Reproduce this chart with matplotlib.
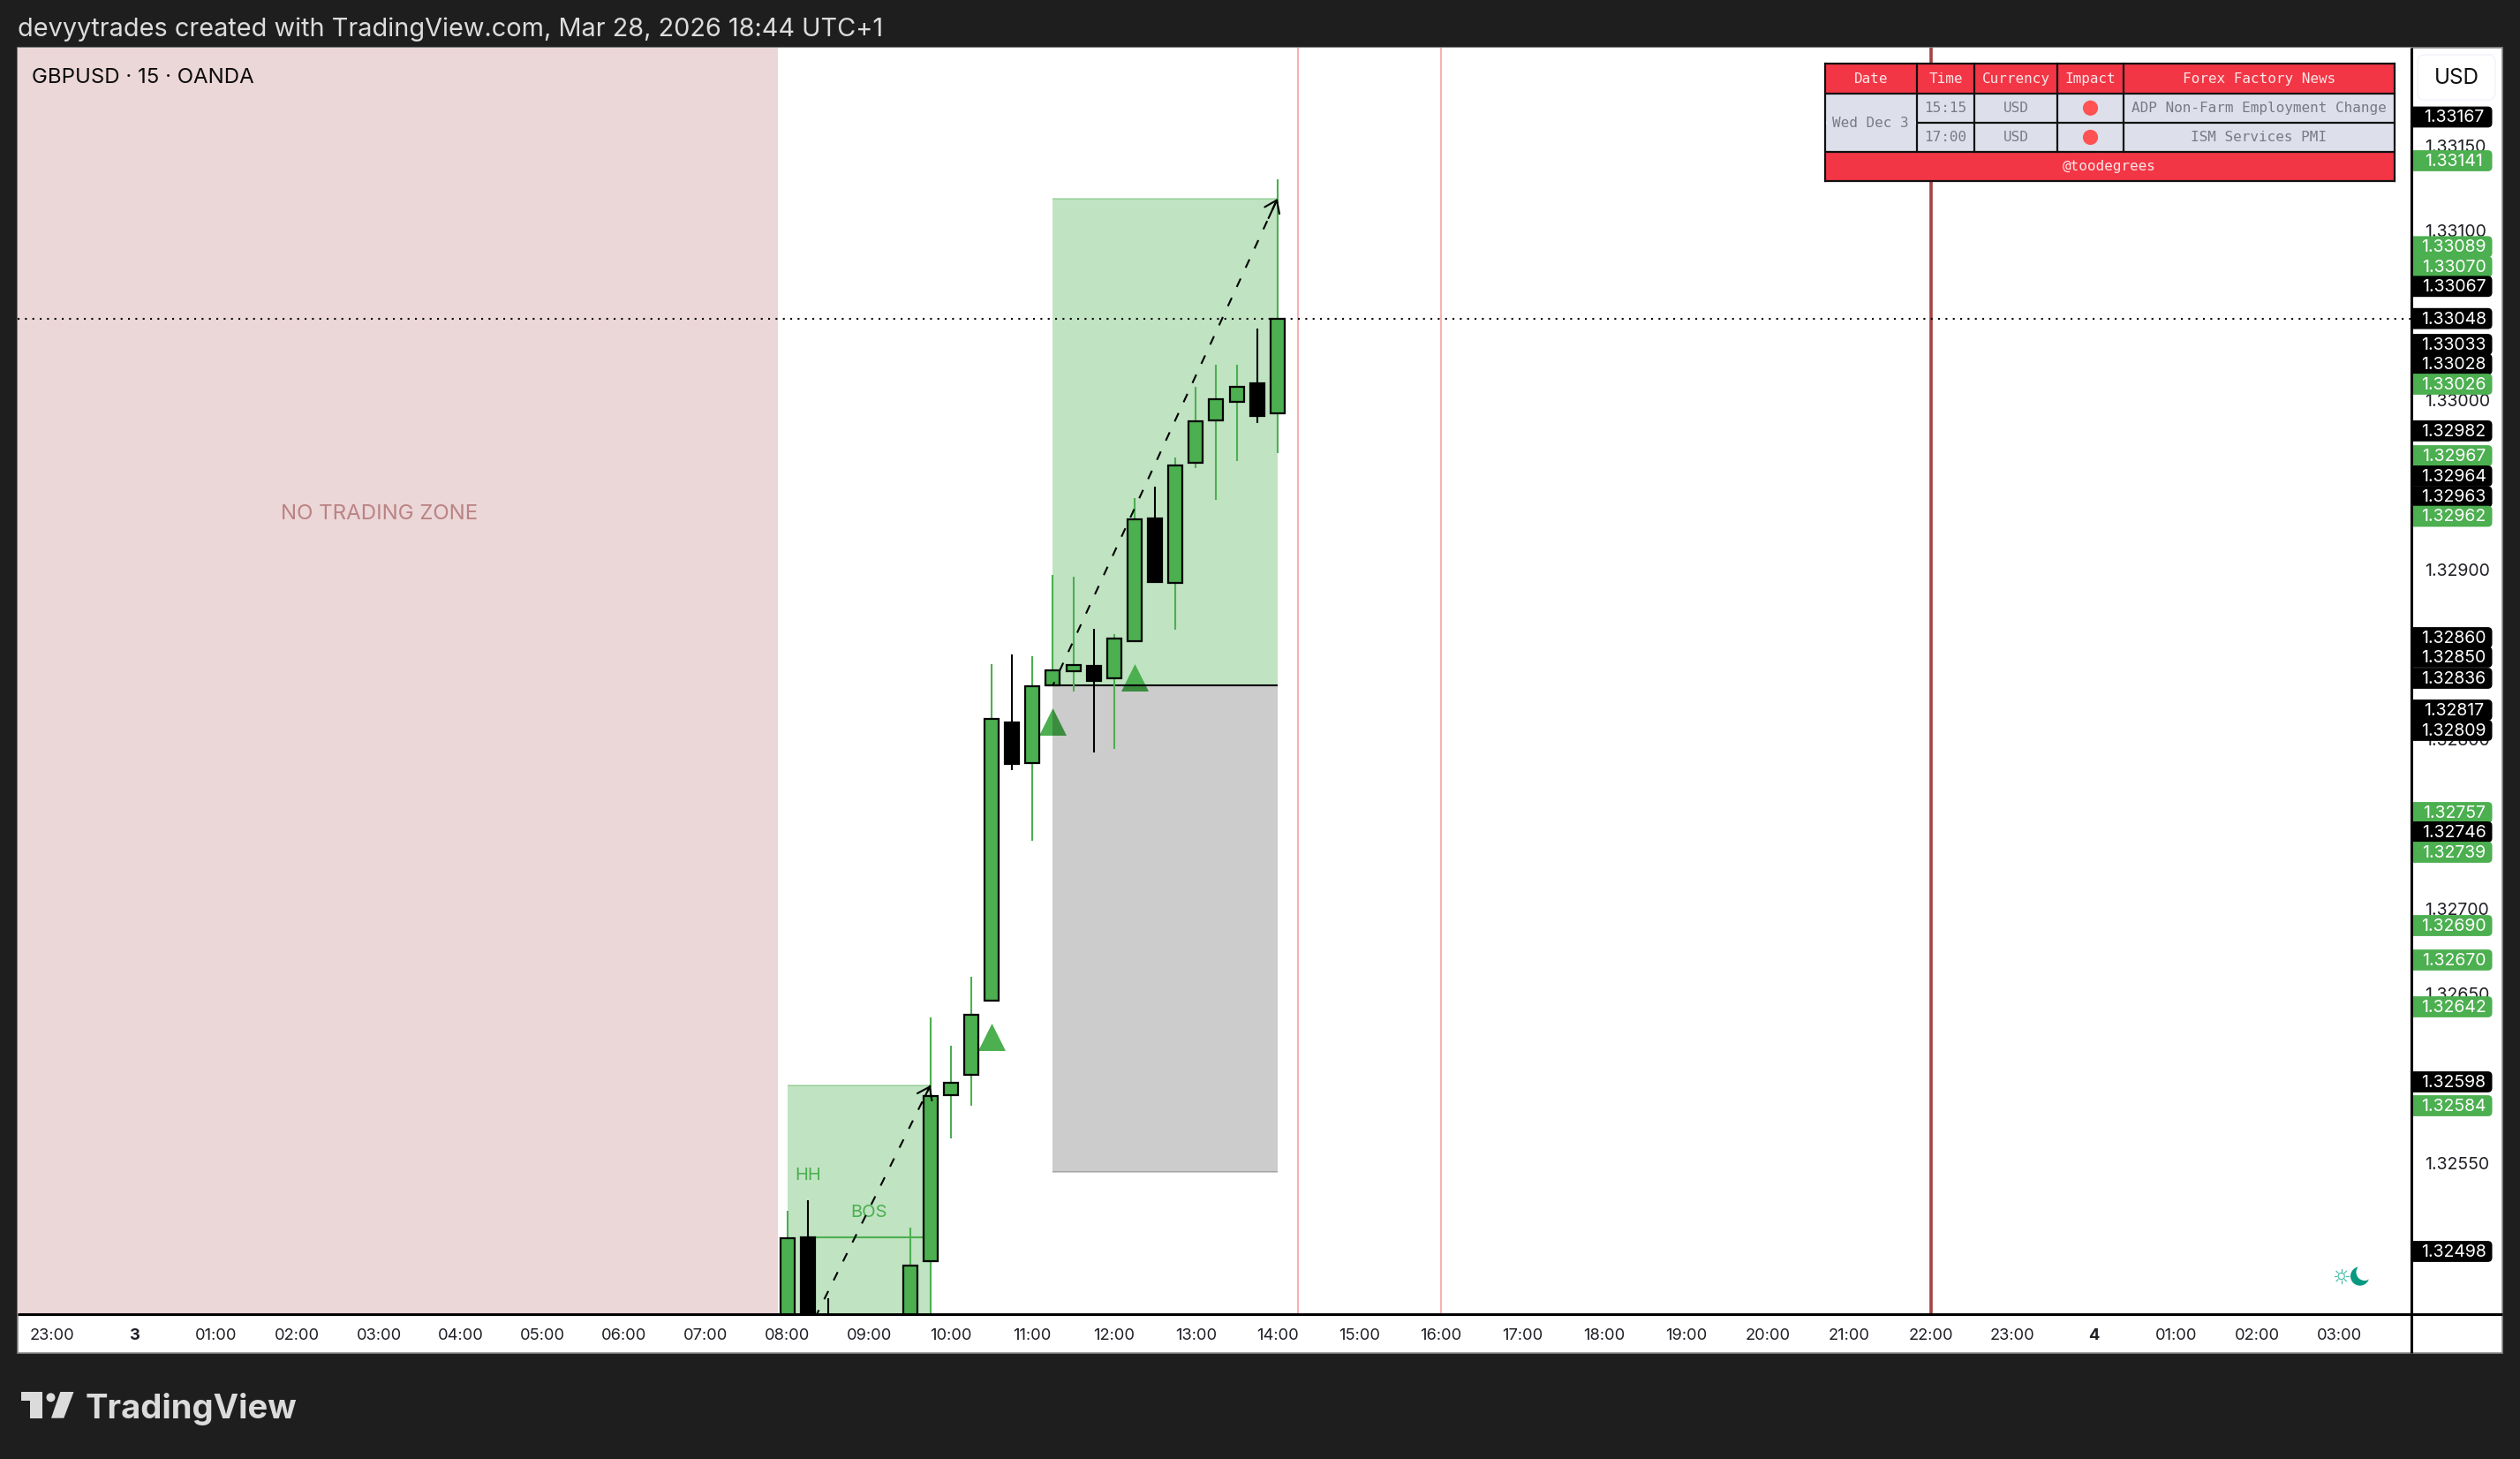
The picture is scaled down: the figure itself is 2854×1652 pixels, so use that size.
import matplotlib
matplotlib.use("Agg")
import matplotlib.pyplot as plt
import numpy as np
from matplotlib.patches import Rectangle, Circle, Polygon, FancyBboxPatch

plt.rcParams['font.family'] = ['Inter', 'DejaVu Sans']

# ---------- data ----------
candle_hours = [8.0, 8.25, 8.5, 9.5, 9.75, 10.0, 10.25, 10.5, 10.75, 11.0, 11.25, 11.5, 11.75,
                12.0, 12.25, 12.5, 12.75, 13.0, 13.25, 13.5, 13.75, 14.0]
opens  = [1.32430, 1.325061, 1.32450, 1.32430, 1.32492, 1.325899, 1.326021, 1.326457, 1.328097, 1.327858, 1.328316,
          1.328400, 1.328429, 1.328358, 1.328577, 1.329299, 1.328920, 1.329629, 1.329879, 1.329986, 1.330096, 1.329919]
highs  = [1.325217, 1.325280, 1.324702, 1.325118, 1.326358, 1.326191, 1.326597, 1.328440, 1.328498, 1.328486, 1.328967,
          1.328957, 1.328650, 1.328618, 1.329420, 1.329488, 1.329660, 1.330075, 1.330207, 1.330205, 1.330419, 1.331299]
lows   = [1.32420, 1.32420, 1.32420, 1.32420, 1.32450, 1.325644, 1.325839, 1.326457, 1.327818, 1.327400, 1.328316,
          1.328281, 1.327922, 1.327943, 1.328577, 1.328927, 1.328644, 1.329597, 1.329411, 1.329641, 1.329861, 1.329686]
closes = [1.325057, 1.32430, 1.32430, 1.324896, 1.325896, 1.325974, 1.326375, 1.328117, 1.327854, 1.328313, 1.328406,
          1.328437, 1.328344, 1.328594, 1.329295, 1.328927, 1.329615, 1.329875, 1.330005, 1.330075, 1.329906, 1.330480]

last_price = 1.33048
no_trade_end = 7.883
no_trade_label = (3.0, 1.329325)
box1 = (8.0, 9.75, 1.32420, 1.325957)
box1_start = (8.25, 1.324501)
bos_level = (8.25, 9.75, 1.325062)
hh_label = (8.25, 1.325425)
bos_label = (9.0, 1.325205)
box2_x = (11.25, 14.0)
box2_prices = (1.325446, 1.328316, 1.331186)
signal_hours = [10.5, 11.25, 12.25]
signal_prices = [1.326245, 1.328103, 1.328363]
pink_lines = [14.25, 16.0]
red_line = 22.0

y_ticks = [1.3255, 1.3265, 1.327, 1.328, 1.329, 1.33, 1.331, 1.3315]
x_tick_hours = list(range(-1, 28))
x_tick_labels = ['23:00', '3'] + [f'{h:02d}:00' for h in range(1, 24)] + ['4', '01:00', '02:00', '03:00']

tag_labels = ['1.33167', '1.33141', '1.33089', '1.33070', '1.33067', '1.33048', '1.33033', '1.33028', '1.33026',
              '1.32982', '1.32967', '1.32964', '1.32963', '1.32962', '1.32860', '1.32850', '1.32836', '1.32817',
              '1.32809', '1.32757', '1.32746', '1.32739', '1.32690', '1.32670', '1.32642', '1.32598', '1.32584', '1.32498']
tag_kinds = list('kgggkkkkgkgkkgkkkkkgkgggg' + 'kgk')

table_head = ['Date', 'Time', 'Currency', 'Impact', 'Forex Factory News']
table_date = 'Wed Dec 3'
table_times = ['15:15', '17:00']
table_currency = ['USD', 'USD']
table_news = ['ADP Non-Farm Employment Change', 'ISM Services PMI']
table_foot = '@toodegrees'

# ---------- layout (pixels) ----------
W, H = 2854, 1652
L, T, R, B = 20, 54, 2731, 1488
OUT_R, OUT_B = 2834, 1532
tag_y_px = [132.5, 182, 279.3, 302, 324.3, 360.7, 390, 412.5, 435, 487.9, 516, 539, 562.5, 584.6,
            722, 744, 768, 804, 827, 920, 942, 965, 1048, 1087, 1140, 1225, 1252, 1417]
table_x = [2066.5, 2171, 2236, 2330, 2405, 2711.5]
table_y = [72.5, 105.7, 139, 172, 205.3]

GREEN = '#4caf50'
DARK = '#1e1e1e'
TXT = '#1f2026'

fig = plt.figure(figsize=((W + 0.01) / 100, (H + 0.01) / 100), dpi=100, facecolor=DARK)

bg = fig.add_axes([0, 0, 1, 1], zorder=-1)
bg.set_xlim(0, W); bg.set_ylim(H, 0); bg.axis('off')
bg.add_patch(Rectangle((L, T), OUT_R - L, OUT_B - T, fc='white', ec='#8a8a8a', lw=1.2))

ax = fig.add_axes([L / W, 1 - B / H, (R - L) / W, (B - T) / H], zorder=1)
ax.set_xlim((L - 151.8) / 92.5, (R - 151.8) / 92.5)
ax.set_ylim(1.331 - (B - 260.7) / 192000, 1.331 + (260.7 - T) / 192000)
for s in ax.spines.values():
    s.set_visible(False)

ax.set_yticks(y_ticks)
ax.set_yticklabels([f'{v:.5f}' for v in y_ticks], fontsize=14, color=TXT, ha='left')
ax.yaxis.tick_right()
ax.tick_params(axis='y', length=0, pad=11)
ax.set_xticks(x_tick_hours)
ax.set_xticklabels(x_tick_labels, fontsize=13.2, color=TXT)
ax.tick_params(axis='x', length=0, pad=11.5)
for lab in ax.get_xticklabels():
    if lab.get_text() in ('3', '4'):
        lab.set_fontweight('bold')

xmin = ax.get_xlim()[0]
ymin, ymax = ax.get_ylim()
ax.axvspan(xmin, no_trade_end, color='#ebd6d8', lw=0, zorder=0.5)
ax.text(*no_trade_label, 'NO TRADING ZONE', color='#bb8383', fontsize=17.3, ha='center', va='center', zorder=1)

# signal triangles sit below the translucent boxes
ax.scatter(signal_hours, signal_prices, marker='^', s=498, color=GREEN, lw=0, zorder=1)

GA = (76 / 255, 175 / 255, 80 / 255, 0.35)
ax.add_patch(Rectangle((box1[0], box1[2]), box1[1] - box1[0], box1[3] - box1[2], fc=GA, lw=0, zorder=2))
ax.add_patch(Rectangle((box2_x[0], box2_prices[1]), box2_x[1] - box2_x[0], box2_prices[2] - box2_prices[1], fc=GA, lw=0, zorder=2))
ax.add_patch(Rectangle((box2_x[0], box2_prices[0]), box2_x[1] - box2_x[0], box2_prices[1] - box2_prices[0],
                       fc=(0, 0, 0, 0.2), lw=0, zorder=2))
ax.hlines(box1[3], box1[0], box1[1], color=GA, lw=1.4, zorder=2)
ax.hlines(box2_prices[2], *box2_x, color=GA, lw=1.4, zorder=2)
ax.hlines(box2_prices[0], *box2_x, color=(0, 0, 0, 0.2), lw=1.4, zorder=2)
ax.hlines(box2_prices[1], box2_x[0] - 0.09, box2_x[1], color='black', lw=1.5, zorder=2.5)

for h in pink_lines:
    ax.axvline(h, color='#f9a8a8', lw=1.3, zorder=2.2)
ax.axvline(red_line, color='#a44343', lw=2.6, zorder=2.2)

ax.hlines(bos_level[2], bos_level[0], bos_level[1], color=GREEN, lw=1.5, zorder=2.5)
ax.text(*hh_label, 'HH', color=GREEN, fontsize=14.5, ha='center', va='center', zorder=2.6)
ax.text(*bos_label, 'BOS', color=GREEN, fontsize=14.5, ha='center', va='center', zorder=2.6)

# candles
ch = np.array(candle_hours); o = np.array(opens); c = np.array(closes)
hi = np.array(highs); lo = np.array(lows)
up = c >= o
wick_col = [GREEN if u else 'black' for u in up]
ax.vlines(ch, lo, hi, colors=wick_col, lw=1.5, zorder=3)
ax.bar(ch, np.abs(c - o), bottom=np.minimum(o, c), width=16 / 92.5,
       color=[GREEN if u else 'black' for u in up], edgecolor='black', linewidth=1.6, zorder=3.2)

# dashed arrows
arrows = [(box1_start, (box1[1], box1[3])),
          ((box2_x[0], box2_prices[1]), (box2_x[1], box2_prices[2]))]
for start, end in arrows:
    ax.plot([start[0], end[0]], [start[1], end[1]], color='black', lw=1.5,
            ls=(3, (5, 6.5)), zorder=3.5)
    ax.annotate('', xy=end, xytext=(start[0] + (end[0] - start[0]) * 0.96, start[1] + (end[1] - start[1]) * 0.96),
                arrowprops=dict(arrowstyle='->,head_length=0.42,head_width=0.3', color='black', lw=1.5,
                                ls='-', mutation_scale=22, shrinkA=0, shrinkB=0), zorder=3.5)

ax.axhline(last_price, color='black', lw=1.5, ls=(0, (1, 3)), zorder=3.6)

# ---------- pixel overlay ----------
px = fig.add_axes([0, 0, 1, 1], zorder=2)
px.set_xlim(0, W); px.set_ylim(H, 0); px.axis('off')

px.plot([R, R], [T, OUT_B], color='black', lw=2.2, solid_capstyle='butt', zorder=1)
px.plot([L, OUT_R], [B, B], color='black', lw=2.2, solid_capstyle='butt', zorder=1)

px.text(20, 33, 'devyytrades created with TradingView.com, Mar 28, 2026 18:44 UTC+1',
        color='#dcdcdc', fontsize=20.8, ha='left', va='center')
px.text(36, 87.5, 'GBPUSD · 15 · OANDA', color='#0b0b0b', fontsize=17.3, ha='left', va='center')

# USD button
px.add_patch(FancyBboxPatch((2744, 68), 76, 39, boxstyle='round,pad=6,rounding_size=8',
                            fc='white', ec='#f0f3fa', lw=1))
px.text(2782, 88, 'USD', color='#111111', fontsize=17.5, ha='center', va='center')

# price tags
clip = Rectangle((R + 2, 0), 200, H, transform=px.transData)
for lab, kind, yy in zip(tag_labels, tag_kinds, tag_y_px):
    col = GREEN if kind == 'g' else 'black'
    p = FancyBboxPatch((R - 20, yy - 11.9), 2822.5 - (R - 20), 23.8,
                       boxstyle='round,pad=0,rounding_size=5', fc=col, ec='none', zorder=3)
    px.add_patch(p)
    p.set_clip_path(clip)
    px.text(2779, yy + 0.8, lab, color='white', fontsize=14, ha='center', va='center', zorder=4)

# news table
tx, ty = table_x, table_y
RED_H = '#f23645'
BODY = '#dde0ea'
HEAD_T = '#fde6e8'
BODY_T = '#787b86'
MONO = 'DejaVu Sans Mono'
px.add_patch(Rectangle((tx[0], ty[0]), tx[-1] - tx[0], ty[1] - ty[0], fc=RED_H, lw=0, zorder=5))
px.add_patch(Rectangle((tx[0], ty[1]), tx[-1] - tx[0], ty[3] - ty[1], fc=BODY, lw=0, zorder=5))
px.add_patch(Rectangle((tx[0], ty[3]), tx[-1] - tx[0], ty[4] - ty[3], fc=RED_H, lw=0, zorder=5))
for yy in ty:
    px.plot([tx[0] - 1, tx[-1] + 1], [yy, yy], color='#111111', lw=1.6, zorder=6, solid_capstyle='butt')
for xx in tx[1:-1]:
    px.plot([xx, xx], [ty[0], ty[3]], color='#111111', lw=1.6, zorder=6)
for xx in (tx[0], tx[-1]):
    px.plot([xx, xx], [ty[0], ty[4]], color='#111111', lw=1.6, zorder=6)
# the date cell spans both rows: hide the row divider there
px.add_patch(Rectangle((tx[0] + 1, ty[2] - 2), tx[1] - tx[0] - 2, 4, fc=BODY, lw=0, zorder=6.5))

def cell(i, row, s, col):
    px.text((tx[i] + tx[i + 1]) / 2, (ty[row] + ty[row + 1]) / 2, s, color=col, fontsize=11.5,
            family=MONO, ha='center', va='center', zorder=7)

for i, s in enumerate(table_head):
    cell(i, 0, s, HEAD_T)
px.text((tx[0] + tx[1]) / 2, ty[2], table_date, color=BODY_T, fontsize=11.5, family=MONO,
        ha='center', va='center', zorder=7)
for r in range(2):
    cell(1, r + 1, table_times[r], BODY_T)
    cell(2, r + 1, table_currency[r], BODY_T)
    cell(4, r + 1, table_news[r], BODY_T)
    px.add_patch(Circle(((tx[3] + tx[4]) / 2, (ty[r + 1] + ty[r + 2]) / 2), 8.6, fc='#ff5252', lw=0, zorder=7))
px.text((tx[0] + tx[-1]) / 2, (ty[3] + ty[4]) / 2, table_foot, color=HEAD_T, fontsize=11.5, family=MONO,
        ha='center', va='center', zorder=7)

# sun / moon icon
TEAL = '#089981'
px.add_patch(Circle((2672.7, 1445), 10.7, fc=TEAL, lw=0, zorder=5))
px.add_patch(Circle((2678, 1440.5), 9.5, fc='white', lw=0, zorder=5.1))
px.add_patch(Circle((2651.7, 1445), 3.6, fc='white', ec='#4dbfa9', lw=0.9, zorder=5))
for a in np.arange(0, 2 * np.pi, np.pi / 4):
    px.plot([2651.7 + 5.3 * np.cos(a), 2651.7 + 8 * np.cos(a)], [1445 + 5.3 * np.sin(a), 1445 + 8 * np.sin(a)],
            color='#4dbfa9', lw=0.9, zorder=5)

# TradingView mark
LOGO = '#dbdbdb'
px.add_patch(Polygon([(24, 1576), (48.3, 1576), (48.3, 1605.7), (34, 1605.7), (34, 1586), (24, 1586)], fc=LOGO, lw=0))
px.add_patch(Circle((57.5, 1582.3), 5, fc=LOGO, lw=0))
px.add_patch(Polygon([(68.3, 1576), (83.5, 1576), (72.3, 1605.7), (58, 1605.7)], fc=LOGO, lw=0))
px.text(96.5, 1605.7, 'TradingView', color=LOGO, fontsize=27.5, fontweight='bold', ha='left', va='baseline')

fig.savefig('out.png', dpi=100, facecolor=fig.get_facecolor())
